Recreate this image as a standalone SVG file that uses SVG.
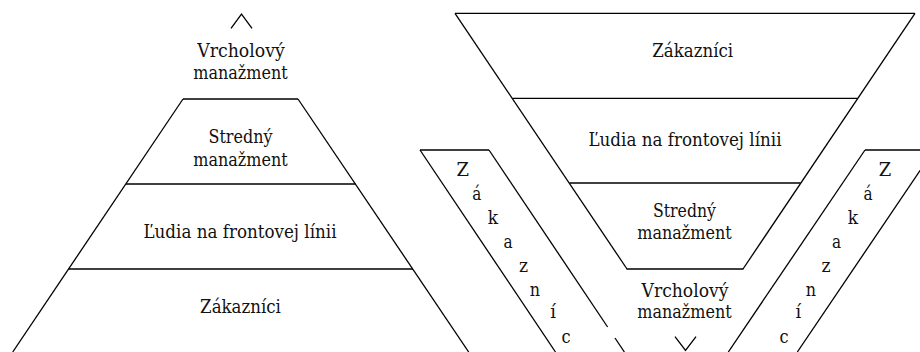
<svg xmlns="http://www.w3.org/2000/svg" width="920" height="352" viewBox="0 0 920 352">
  <style>
    .ln { stroke: #000; stroke-width: 1.3; fill: none; stroke-linecap: butt; }
    .t { font-family: "DejaVu Serif", serif; font-size: 18.7px; fill: #111; text-anchor: middle; }
  </style>
  <rect width="920" height="352" fill="#fff"/>

  <!-- Classic pyramid: management on top, customers at the base -->
  <g id="classic-pyramid">
    <g id="classic-apex">
      <polyline class="ln" points="231,28.3 241.5,14 252,28.3"/>
      <text class="t" x="241" y="56.7" textLength="87.7" lengthAdjust="spacingAndGlyphs">Vrcholový</text>
      <text class="t" x="240.5" y="79" textLength="94.5" lengthAdjust="spacingAndGlyphs">manažment</text>
    </g>
    <g id="classic-sides">
      <line class="ln" x1="183" y1="99" x2="12.7" y2="352"/>
      <line class="ln" x1="298" y1="99" x2="468.7" y2="352"/>
    </g>
    <g id="classic-middle">
      <line class="ln" x1="183" y1="99" x2="298" y2="99"/>
      <text class="t" x="240.5" y="142.7" textLength="64" lengthAdjust="spacingAndGlyphs">Stredný</text>
      <text class="t" x="240.5" y="165.7" textLength="94.5" lengthAdjust="spacingAndGlyphs">manažment</text>
    </g>
    <g id="classic-frontline">
      <line class="ln" x1="126" y1="184" x2="355.5" y2="184"/>
      <text class="t" x="240" y="238" textLength="193" lengthAdjust="spacingAndGlyphs">Ľudia na frontovej línii</text>
    </g>
    <g id="classic-customers">
      <line class="ln" x1="68.5" y1="269" x2="413" y2="269"/>
      <text class="t" x="240.5" y="313" textLength="80.8" lengthAdjust="spacingAndGlyphs">Zákazníci</text>
    </g>
  </g>

  <!-- Inverted pyramid: customers on top, management at the bottom -->
  <g id="inverted-pyramid">
    <g id="inverted-sides">
      <line class="ln" x1="455" y1="13.3" x2="627" y2="269"/>
      <line class="ln" x1="915" y1="13.3" x2="743" y2="269"/>
    </g>
    <g id="inverted-customers">
      <line class="ln" x1="455" y1="13.3" x2="915" y2="13.3"/>
      <text class="t" x="692.7" y="56.7" textLength="80.8" lengthAdjust="spacingAndGlyphs">Zákazníci</text>
    </g>
    <g id="inverted-frontline">
      <line class="ln" x1="512.5" y1="98.3" x2="857.5" y2="98.3"/>
      <text class="t" x="685" y="146" textLength="193" lengthAdjust="spacingAndGlyphs">Ľudia na frontovej línii</text>
    </g>
    <g id="inverted-middle">
      <line class="ln" x1="569.5" y1="183" x2="800.5" y2="183"/>
      <text class="t" x="684.5" y="216.7" textLength="63" lengthAdjust="spacingAndGlyphs">Stredný</text>
      <text class="t" x="684.5" y="239" textLength="94.5" lengthAdjust="spacingAndGlyphs">manažment</text>
    </g>
    <g id="inverted-top-management">
      <line class="ln" x1="626.5" y1="269" x2="743.5" y2="269"/>
      <text class="t" x="685" y="296.7" textLength="87" lengthAdjust="spacingAndGlyphs">Vrcholový</text>
      <text class="t" x="684.5" y="318.3" textLength="94.5" lengthAdjust="spacingAndGlyphs">manažment</text>
      <polyline class="ln" points="675,336.7 685.5,350.5 696,336.7"/>
    </g>
  </g>

  <!-- Customer bands flanking the inverted pyramid, one letter per step -->
  <g id="customers-left-band">
    <line class="ln" x1="420" y1="150" x2="489" y2="150"/>
    <line class="ln" x1="420" y1="150" x2="555.5" y2="352"/>
    <line class="ln" x1="489" y1="150" x2="607.6" y2="327"/>
    <line class="ln" x1="615" y1="338" x2="624.4" y2="352"/>
    <text class="t" x="462.7" y="176" textLength="12.5" lengthAdjust="spacingAndGlyphs">Z</text>
    <text class="t" x="476.7" y="200" textLength="9.1" lengthAdjust="spacingAndGlyphs">á</text>
    <text class="t" x="493" y="224" textLength="10.3" lengthAdjust="spacingAndGlyphs">k</text>
    <text class="t" x="508" y="248.3" textLength="9.1" lengthAdjust="spacingAndGlyphs">a</text>
    <text class="t" x="523.5" y="271.7" textLength="9.1" lengthAdjust="spacingAndGlyphs">z</text>
    <text class="t" x="535" y="296" textLength="10.3" lengthAdjust="spacingAndGlyphs">n</text>
    <text class="t" x="553" y="318.3" textLength="5.7" lengthAdjust="spacingAndGlyphs">í</text>
    <text class="t" x="566" y="343.3" textLength="9.1" lengthAdjust="spacingAndGlyphs">c</text>
  </g>

  <g id="customers-right-band">
    <line class="ln" x1="865" y1="150" x2="934" y2="150"/>
    <line class="ln" x1="865" y1="150" x2="728.3" y2="352"/>
    <line class="ln" x1="934" y1="150" x2="797.3" y2="352"/>
    <text class="t" x="885" y="176" textLength="12.5" lengthAdjust="spacingAndGlyphs">Z</text>
    <text class="t" x="868" y="200" textLength="9.1" lengthAdjust="spacingAndGlyphs">á</text>
    <text class="t" x="853" y="224" textLength="10.3" lengthAdjust="spacingAndGlyphs">k</text>
    <text class="t" x="836.5" y="248.3" textLength="9.1" lengthAdjust="spacingAndGlyphs">a</text>
    <text class="t" x="826" y="271.5" textLength="9.1" lengthAdjust="spacingAndGlyphs">z</text>
    <text class="t" x="811" y="296" textLength="10.3" lengthAdjust="spacingAndGlyphs">n</text>
    <text class="t" x="798.3" y="318.3" textLength="5.7" lengthAdjust="spacingAndGlyphs">í</text>
    <text class="t" x="784" y="343.3" textLength="9.1" lengthAdjust="spacingAndGlyphs">c</text>
  </g>
</svg>
